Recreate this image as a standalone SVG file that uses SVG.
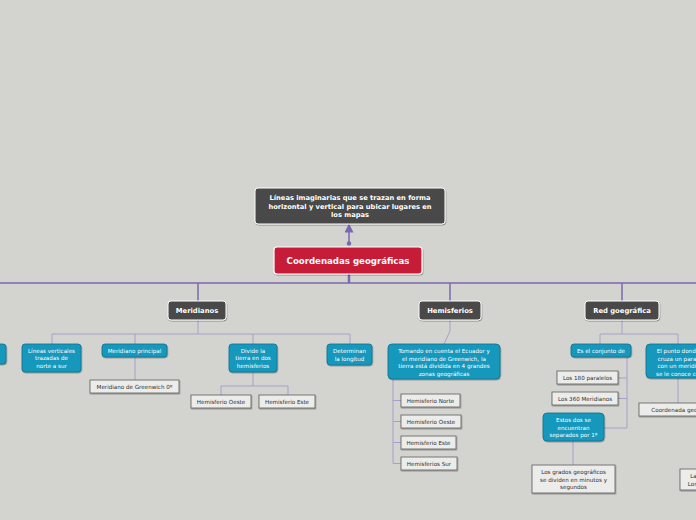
<svg xmlns="http://www.w3.org/2000/svg" width="696" height="520" viewBox="0 0 696 520">
<defs>
<filter id="sh" x="-10%" y="-10%" width="130%" height="140%"><feDropShadow dx="0.6" dy="1" stdDeviation="0.6" flood-color="#000" flood-opacity="0.35"/></filter>
<marker id="ah" viewBox="0 0 10 10" refX="5" refY="5" markerWidth="6" markerHeight="6" orient="auto"><path d="M0,0 L10,5 L0,10 z" fill="#7b68b0"/></marker>
</defs>
<style>
.dark{fill:#4a4a48;stroke:#ffffff;stroke-width:1;filter:url(#sh)}
.red{fill:#c71f37;stroke:#ffffff;stroke-width:1.2;filter:url(#sh)}
.teal{fill:#1798bd;stroke:#0f6f8b;stroke-width:0.8;filter:url(#sh)}
.box{fill:#ececea;stroke:#6a6a6a;stroke-width:0.9;filter:url(#sh)}
text{font-family:"DejaVu Sans","Liberation Sans",sans-serif;text-anchor:middle}
.tw{fill:#ffffff;font-size:5.6px}
.tb{fill:#ffffff;font-size:6.8px;font-weight:bold}
.tt{fill:#ffffff;font-size:6.7px;font-weight:bold}
.tk{fill:#2e2e2e;font-size:5.6px}
.main{stroke:#7b68b0;stroke-width:1.5;fill:none}
.sub{stroke:#a99ecb;stroke-width:1;fill:none}
</style>
<rect width="696" height="520" fill="#d3d4d0"/>
<g id="connectors">
<line class="main" x1="349" y1="243" x2="349" y2="228" marker-end="url(#ah)"/>
<circle cx="349" cy="243.5" r="2.2" fill="#7b68b0"/>
<line x1="349" y1="274" x2="349" y2="283" stroke="#7b68b0" stroke-width="2.5"/>
<line class="main" x1="0" y1="283" x2="696" y2="283"/>
<line class="main" x1="198" y1="283" x2="198" y2="301"/>
<line class="main" x1="450" y1="283" x2="450" y2="301"/>
<line class="main" x1="622" y1="283" x2="622" y2="301"/>
<line class="sub" x1="198" y1="320" x2="198" y2="334"/>
<polyline class="sub" points="52,344 52,334 350,334 350,344"/>
<line class="sub" x1="135" y1="334" x2="135" y2="344"/>
<line class="sub" x1="253" y1="334" x2="253" y2="344"/>
<line class="sub" x1="135" y1="357" x2="135" y2="380"/>
<line class="sub" x1="253" y1="372" x2="253" y2="386"/>
<polyline class="sub" points="221,395 221,386 288,386 288,395"/>
<polyline class="sub" points="450,320 450,331 444,344"/>
<polyline class="sub" points="393,379 393,463.5 401,463.5"/>
<line class="sub" x1="393" y1="400.5" x2="401" y2="400.5"/>
<line class="sub" x1="393" y1="421.5" x2="401" y2="421.5"/>
<line class="sub" x1="393" y1="442.5" x2="401" y2="442.5"/>
<line class="sub" x1="622" y1="320" x2="622" y2="334"/>
<polyline class="sub" points="600,344 600,334 678,334 678,344"/>
<polyline class="sub" points="627,357 627,428 604,428"/>
<line class="sub" x1="618" y1="378" x2="627" y2="378"/>
<line class="sub" x1="618" y1="398.5" x2="627" y2="398.5"/>
<line class="sub" x1="573" y1="441" x2="573" y2="465"/>
<line class="sub" x1="678" y1="378" x2="678" y2="403"/>
</g>
<g id="n-top"><rect class="dark" x="255" y="188" width="190" height="36" rx="3"/>
<text class="tt" x="350" y="199.5">Líneas imaginarias que se trazan en forma</text>
<text class="tt" x="350" y="208.5">horizontal y vertical para ubicar lugares en</text>
<text class="tt" x="350" y="217">los mapas</text></g>
<g id="n-main"><rect class="red" x="274" y="247" width="148" height="27" rx="3"/>
<text x="348" y="264" fill="#fff" font-size="8.6" font-weight="bold">Coordenadas geográficas</text></g>
<g id="n-meridianos"><rect class="dark" x="168" y="301" width="58" height="19" rx="3"/><text class="tb" x="197" y="313">Meridianos</text></g>
<g id="n-hemisferios"><rect class="dark" x="419" y="301" width="62" height="19" rx="3"/><text class="tb" x="450" y="313">Hemisferios</text></g>
<g id="n-red"><rect class="dark" x="585" y="301" width="74" height="19" rx="3"/><text class="tb" x="622" y="313">Red goegráfica</text></g>
<g id="n-left"><rect class="teal" x="-20" y="344" width="26" height="20" rx="3"/></g>
<g id="n-lineas"><rect class="teal" x="22" y="344" width="59" height="28" rx="3"/>
<text class="tw" x="51.5" y="353">Líneas verticales</text><text class="tw" x="51.5" y="360">trazadas de</text><text class="tw" x="51.5" y="368">norte a sur</text></g>
<g id="n-mprincipal"><rect class="teal" x="102" y="344" width="65" height="13" rx="3"/><text class="tw" x="134.5" y="352.5">Meridiano principal</text></g>
<g id="n-divide"><rect class="teal" x="229" y="344" width="48" height="28" rx="3"/>
<text class="tw" x="253" y="353">Divide la</text><text class="tw" x="253" y="360">tierra en dos</text><text class="tw" x="253" y="368">hemisferios</text></g>
<g id="n-determinan"><rect class="teal" x="327" y="344" width="45" height="21" rx="3"/>
<text class="tw" x="349.5" y="353">Determinan</text><text class="tw" x="349.5" y="360.5">la longitud</text></g>
<g id="n-greenwich"><rect class="box" x="90" y="380" width="89" height="13"/><text class="tk" x="134.5" y="388.5">Meridiano de Greenwich 0º</text></g>
<g id="n-oeste1"><rect class="box" x="191" y="395" width="60" height="13"/><text class="tk" x="221" y="403.5">Hemisferio Oeste</text></g>
<g id="n-este1"><rect class="box" x="259" y="395" width="56" height="13"/><text class="tk" x="287" y="403.5">Hemisferio Este</text></g>
<g id="n-tomando"><rect class="teal" x="388" y="344" width="112" height="35" rx="4"/>
<text class="tw" x="444" y="353">Tomando en cuenta el Ecuador y</text><text class="tw" x="444" y="360.5">el meridiano de Greenwich, la</text><text class="tw" x="444" y="368">tierra está dividida en 4 grandes</text><text class="tw" x="444" y="375.5">zonas geográficas</text></g>
<g id="n-norte"><rect class="box" x="401" y="394" width="59" height="13"/><text class="tk" x="430.5" y="402.5">Hemisferio Norte</text></g>
<g id="n-oeste2"><rect class="box" x="401" y="415" width="60" height="13"/><text class="tk" x="431" y="423.5">Hemisferio Oeste</text></g>
<g id="n-este2"><rect class="box" x="401" y="436" width="55" height="13"/><text class="tk" x="428.5" y="444.5">Hemisferio Este</text></g>
<g id="n-sur"><rect class="box" x="401" y="457" width="56" height="13"/><text class="tk" x="429" y="465.5">Hemisferios Sur</text></g>
<g id="n-conjunto"><rect class="teal" x="571" y="344" width="60" height="13" rx="3"/><text class="tw" x="601" y="352.5">Es el conjunto de</text></g>
<g id="n-punto"><rect class="teal" x="646" y="344" width="72" height="34" rx="4"/>
<text class="tw" x="682" y="353">El punto donde se</text><text class="tw" x="682" y="360.5">cruza un paralelo</text><text class="tw" x="682" y="368">con un meridiano</text><text class="tw" x="682" y="375.5">se le conoce como</text></g>
<g id="n-180"><rect class="box" x="557" y="371" width="61" height="13"/><text class="tk" x="587.5" y="379.5">Los 180 paralelos</text></g>
<g id="n-360"><rect class="box" x="552" y="392" width="66" height="13"/><text class="tk" x="585" y="400.5">Los 360 Meridianos</text></g>
<g id="n-estos"><rect class="teal" x="543" y="413" width="61" height="28" rx="4"/>
<text class="tw" x="573.5" y="422">Estos dos se</text><text class="tw" x="573.5" y="429.5">encuentran</text><text class="tw" x="573.5" y="437">separados por 1º</text></g>
<g id="n-grados"><rect class="box" x="532" y="465" width="83" height="28"/>
<text class="tk" x="573.5" y="474">Los grados geográficos</text><text class="tk" x="573.5" y="481.5">se dividen en minutos y</text><text class="tk" x="573.5" y="489">segundos</text></g>
<g id="n-coordenada"><rect class="box" x="639" y="403" width="90" height="13"/><text class="tk" x="684" y="411.5">Coordenada geográfica</text></g>
<g id="n-latlon"><rect class="box" x="680" y="469" width="40" height="21"/>
<text class="tk" x="700" y="477.5">Latitud</text><text class="tk" x="700" y="485.5">Longitud</text></g>
</svg>
